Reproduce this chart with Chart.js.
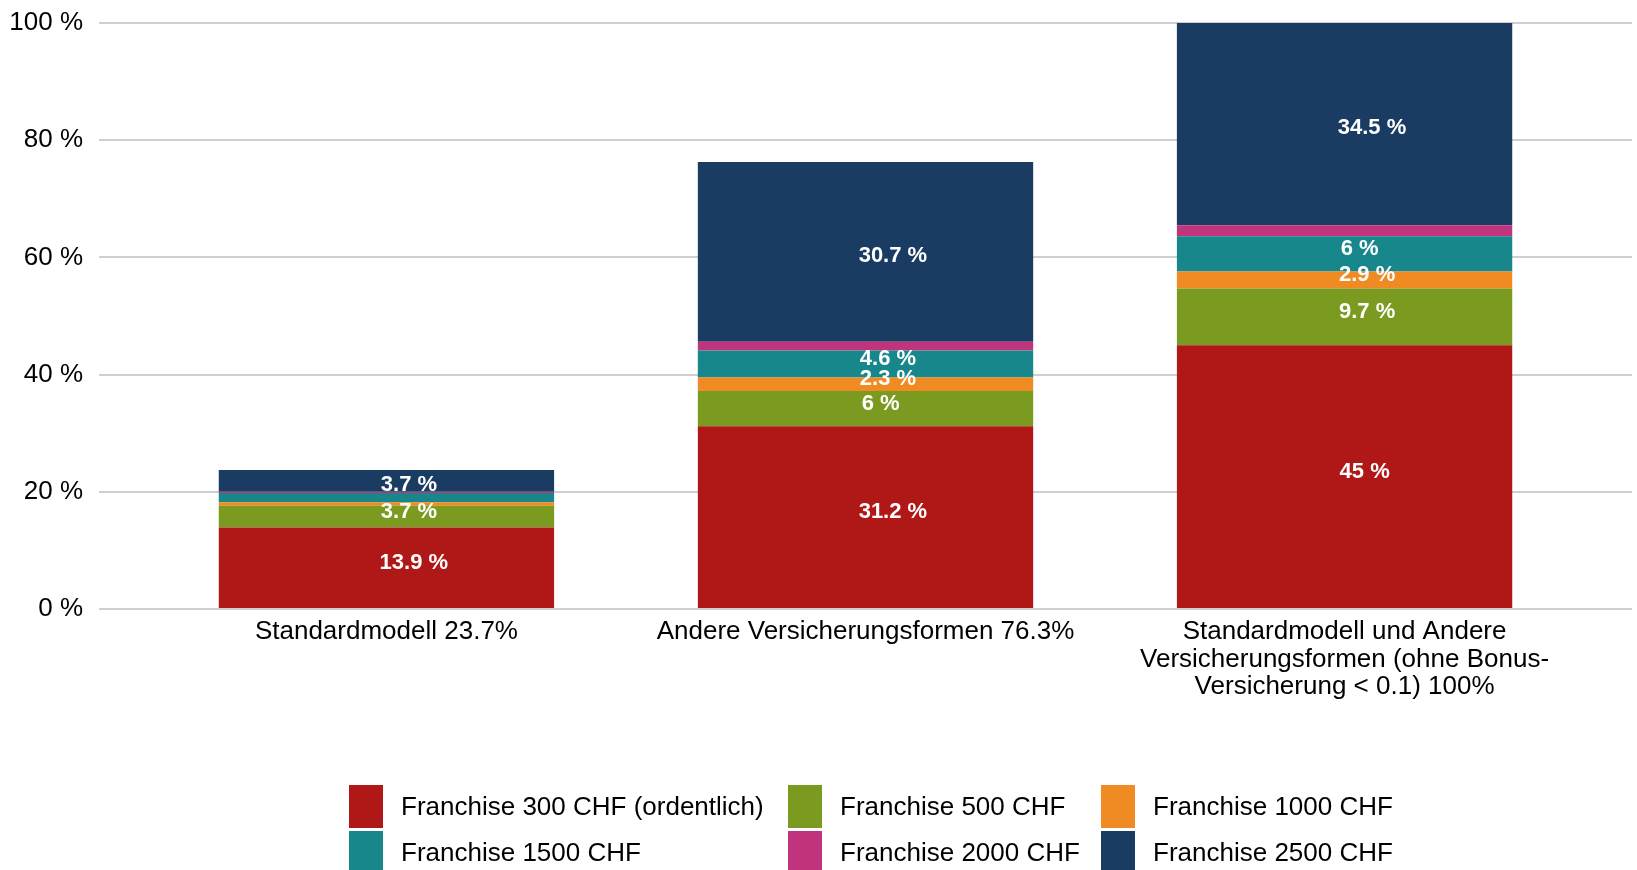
<!DOCTYPE html>
<html>
<head>
<meta charset="utf-8">
<script src="https://cdn.jsdelivr.net/npm/chart.js@4.4.1/dist/chart.umd.min.js"></script>
<style>
  html, body { margin: 0; padding: 0; background: #fff; overflow: hidden; }
  #wrap { position: relative; width: 1637px; height: 870px; }
  #legend {
    position: absolute; left: 349px; top: 785px;
    display: grid; grid-template-columns: 439px 313px auto; row-gap: 3px;
    font-family: "Liberation Sans", Arial, sans-serif; font-size: 26px; color: #000;
  }
  .item { display: flex; align-items: center; height: 43px; white-space: nowrap; }
  .box { width: 34px; height: 43px; margin-right: 18px; flex: none; }
</style>
</head>
<body>
<div id="wrap">
  <canvas id="myChart" width="1637" height="870"></canvas>
  <div id="legend"></div>
</div>
<script>
const categories = [
  'Standardmodell 23.7%',
  'Andere Versicherungsformen 76.3%',
  ['Standardmodell und Andere', 'Versicherungsformen (ohne Bonus-', 'Versicherung < 0.1) 100%']
];
const seriesNames = [
  'Franchise 300 CHF (ordentlich)', 'Franchise 500 CHF', 'Franchise 1000 CHF',
  'Franchise 1500 CHF', 'Franchise 2000 CHF', 'Franchise 2500 CHF'
];
const f300 = [13.9, 31.2, 45];
const f500 = [3.7, 6, 9.7];
const f1000 = [0.6, 2.3, 2.9];
const f1500 = [1.6, 4.6, 6];
const f2000 = [0.2, 1.5, 1.9];
const f2500 = [3.7, 30.7, 34.5];
const yTicks = [0, 20, 40, 60, 80, 100];

const colors = ['#B01817', '#7A9A20', '#F08A22', '#17878B', '#C0347E', '#1A3C62'];
const allSeries = [f300, f500, f1000, f1500, f2000, f2500];
const fontFam = '"Liberation Sans", Arial, sans-serif';

// Beschriftung in den Segmenten (kein datalabels-Plugin verfügbar)
const segmentLabels = {
  id: 'segmentLabels',
  afterDatasetsDraw(chart) {
    const ctx = chart.ctx;
    const lastDs = chart.data.datasets.length - 1;
    ctx.save();
    ctx.font = 'bold 22px ' + fontFam;
    ctx.fillStyle = '#fff';
    ctx.textAlign = 'left';
    ctx.textBaseline = 'middle';
    chart.data.datasets.forEach((ds, di) => {
      chart.getDatasetMeta(di).data.forEach((bar, i) => {
        const v = ds.data[i].y;
        if (v < 2) return;
        const txt = v + ' %';
        const w = ctx.measureText(txt).width;
        const dy = di === lastDs ? 4 : -5;
        ctx.fillText(txt, bar.x - 0.1 * w, (bar.y + bar.base) / 2 + dy);
      });
    });
    ctx.restore();
  }
};

const ctx = document.getElementById('myChart');

const chart = new Chart(ctx, {
  type: 'bar',
  data: {
    datasets: allSeries.map((vals, s) => ({
      label: seriesNames[s],
      backgroundColor: colors[s],
      borderWidth: 0,
      data: vals.map((v, i) => ({ x: i, y: v }))
    }))
  },
  options: {
    responsive: false,
    animation: false,
    barPercentage: 0.7,
    categoryPercentage: 1,
    layout: { padding: { top: 23, right: 5, left: 0, bottom: 0 } },
    scales: {
      x: {
        type: 'linear',
        stacked: true,
        offset: false,
        min: -0.6,
        max: 2.6,
        afterBuildTicks: (scale) => { scale.ticks = categories.map((c, i) => ({ value: i })); },
        afterFit: (scale) => { scale.height = 261; },
        grid: { display: false, drawTicks: false, offset: false },
        border: { display: false },
        ticks: {
          autoSkip: false,
          maxRotation: 0,
          padding: 9,
          color: '#000',
          font: { family: fontFam, size: 26, lineHeight: 1.06 },
          callback: (v) => categories[v]
        }
      },
      y: {
        stacked: true,
        min: 0,
        max: 100,
        afterBuildTicks: (scale) => { scale.ticks = yTicks.map(v => ({ value: v })); },
        afterFit: (scale) => {
          scale.width = 99;
          scale.paddingTop = 0;
          scale.paddingBottom = 0;
        },
        grid: { color: '#cfcfcf', lineWidth: 2, drawTicks: false },
        border: { display: false },
        ticks: {
          padding: 16,
          labelOffset: 0,
          color: '#000',
          font: { family: fontFam, size: 26 },
          callback: (v) => v + ' %'
        }
      }
    },
    plugins: {
      legend: { display: false },
      tooltip: { enabled: false }
    }
  },
  plugins: [segmentLabels]
});

// HTML-Legende aus den Datensätzen
const legendEl = document.getElementById('legend');
chart.data.datasets.forEach(ds => {
  const item = document.createElement('div');
  item.className = 'item';
  const box = document.createElement('span');
  box.className = 'box';
  box.style.background = ds.backgroundColor;
  const txt = document.createElement('span');
  txt.textContent = ds.label;
  item.appendChild(box);
  item.appendChild(txt);
  legendEl.appendChild(item);
});
</script>
</body>
</html>
